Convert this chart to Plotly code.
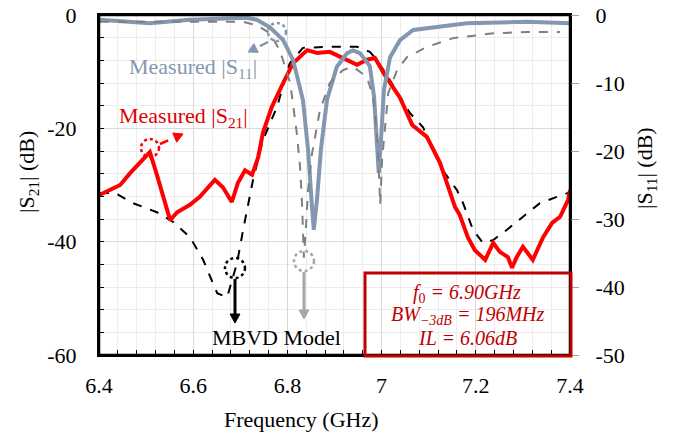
import plotly.graph_objects as go

# ---------------- data ----------------
freq_s21_meas = [6.400, 6.445, 6.466, 6.487, 6.508, 6.523, 6.536, 6.551, 6.566, 6.593, 6.614,
                 6.646, 6.663, 6.682, 6.695, 6.710, 6.725, 6.738, 6.748, 6.767, 6.791, 6.812,
                 6.842, 6.863, 6.890, 6.927, 6.948, 6.969, 6.986, 7.007, 7.018, 7.039, 7.065,
                 7.096, 7.124, 7.156, 7.166, 7.183, 7.198, 7.220, 7.237, 7.251, 7.268, 7.277,
                 7.287, 7.300, 7.321, 7.343, 7.362, 7.379, 7.396, 7.400]
s21_meas = [-31.8, -30.0, -27.9, -26.1, -24.2, -28.2, -31.8, -36.2, -34.8, -33.5, -32.1,
            -29.1, -30.4, -33.0, -29.6, -27.4, -28.2, -25.1, -20.8, -16.2, -12.0, -8.5,
            -6.2, -6.7, -6.5, -7.9, -8.8, -7.9, -7.6, -10.6, -12.0, -14.6, -19.4,
            -21.5, -26.1, -33.9, -35.3, -39.2, -41.5, -43.2, -40.2, -41.8, -42.7, -44.6,
            -42.7, -40.9, -43.2, -39.2, -36.7, -35.6, -32.6, -30.9]

freq_s21_model = [6.402, 6.434, 6.472, 6.523, 6.557, 6.593, 6.621, 6.651, 6.672, 6.693, 6.706,
                  6.727, 6.748, 6.778, 6.805, 6.833, 6.890, 6.948, 6.975, 6.990, 7.011, 7.033,
                  7.060, 7.088, 7.109, 7.130, 7.160, 7.173, 7.194, 7.215, 7.237, 7.266, 7.300,
                  7.336, 7.372, 7.396]
s21_model = [-31.4, -31.4, -33.2, -34.8, -36.5, -39.2, -43.2, -49.1, -49.8, -43.8, -37.9,
             -29.1, -22.1, -16.2, -8.5, -5.8, -5.6, -5.6, -6.5, -7.9, -10.6, -13.6,
             -17.3, -19.8, -23.8, -27.4, -30.9, -33.2, -37.9, -40.2, -39.7, -37.9, -35.6,
             -33.2, -32.1, -31.4]

freq_s11_meas = [6.402, 6.508, 6.593, 6.714, 6.735, 6.763, 6.791, 6.812, 6.833, 6.844, 6.852,
                 6.856, 6.863, 6.871, 6.884, 6.905, 6.927, 6.939, 6.954, 6.975, 6.984, 6.990,
                 6.994, 6.999, 7.005, 7.018, 7.039, 7.067, 7.109, 7.181, 7.309, 7.400]
s11_meas = [-0.7, -1.2, -0.7, -0.4, -0.7, -1.8, -3.7, -6.6, -12.5, -19.9, -28.0,
            -31.6, -27.0, -19.9, -12.5, -7.6, -5.6, -5.2, -5.6, -7.5, -12.0, -18.0,
            -23.2, -18.0, -11.0, -6.2, -3.7, -2.2, -1.8, -1.2, -1.0, -1.2]

freq_s11_model = [6.402, 6.706, 6.735, 6.763, 6.784, 6.806, 6.820, 6.827, 6.831, 6.835, 6.839,
                  6.844, 6.852, 6.869, 6.890, 6.918, 6.939, 6.969, 6.982, 6.990, 6.994, 6.997,
                  7.001, 7.007, 7.014, 7.033, 7.054, 7.096, 7.152, 7.237, 7.309, 7.379]
s11_model = [-1.0, -1.0, -1.5, -2.7, -5.2, -10.0, -17.4, -22.4, -27.6, -35.7, -31.6,
             -25.7, -20.5, -14.0, -10.0, -8.1, -7.6, -9.1, -12.1, -17.4, -22.4, -27.9,
             -21.3, -16.5, -11.5, -8.1, -6.2, -4.7, -3.4, -2.7, -2.5, -2.5]

x_ticks = [6.4, 6.6, 6.8, 7.0, 7.2, 7.4]
x_ticktext = ["6.4", "6.6", "6.8", "7", "7.2", "7.4"]
y_ticks = [-60, -40, -20, 0]
y_ticktext = ["-60", "-40", "-20", "0"]
y2_ticks = [-50, -40, -30, -20, -10, 0]
y2_ticktext = ["-50", "-40", "-30", "-20", "-10", "0"]

# ---------------- styling ----------------
FONT = "Liberation Serif"
S11_COL = "#8497B0"
RED = "#FF0000"
BOX_RED = "#C00000"
FS = 22

# the page body has an 8px margin: lay the figure out in window pixels minus 8
OFF = 8
X0, X1, Y0, Y1 = 99, 570, 15, 355          # plot area in window pixels
W, H = 680 - OFF, 436 - OFF
L, T = X0 - OFF, Y0 - OFF
R, B = W - (X1 - OFF), H - (Y1 - OFF)
PW, PH = X1 - X0, Y1 - Y0


def pxp(px):  # window pixel -> paper x
    return (px - X0) / PW


def pyp(py):  # window pixel -> paper y
    return 1 - (py - Y0) / PH


fig = go.Figure()

fig.add_trace(go.Scatter(x=freq_s11_meas, y=s11_meas, yaxis="y2", mode="lines",
                         line=dict(color=S11_COL, width=4), name="Measured |S11|"))
fig.add_trace(go.Scatter(x=freq_s11_model, y=s11_model, yaxis="y2", mode="lines",
                         line=dict(color="#7F7F7F", width=2, dash="dash"), name="Model |S11|"))
fig.add_trace(go.Scatter(x=freq_s21_model, y=s21_model, mode="lines",
                         line=dict(color="black", width=2, dash="dash"), name="Model |S21|"))
fig.add_trace(go.Scatter(x=freq_s21_meas, y=s21_meas, mode="lines",
                         line=dict(color=RED, width=4), name="Measured |S21|"))

shapes = []
annotations = []


def circle(cx, cy, r, color):
    shapes.append(dict(type="circle", xref="paper", yref="paper",
                       x0=pxp(cx - r), x1=pxp(cx + r), y0=pyp(cy + r), y1=pyp(cy - r),
                       line=dict(color=color, width=2.5, dash="dot"), layer="above"))


def arrow(x0, y0, x1, y1, color, dashed=False, width=2.5, head=9):
    dx, dy = x1 - x0, y1 - y0
    n = (dx ** 2 + dy ** 2) ** 0.5
    ux, uy = dx / n, dy / n
    bx, by = x1 - ux * head, y1 - uy * head
    shapes.append(dict(type="line", xref="paper", yref="paper",
                       x0=pxp(x0), y0=pyp(y0), x1=pxp(bx), y1=pyp(by),
                       line=dict(color=color, width=width, dash="dash" if dashed else "solid"),
                       layer="above"))
    wx, wy = -uy * head * 0.55, ux * head * 0.55
    path = "M {} {} L {} {} L {} {} Z".format(
        pxp(x1), pyp(y1), pxp(bx + wx), pyp(by + wy), pxp(bx - wx), pyp(by - wy))
    shapes.append(dict(type="path", xref="paper", yref="paper", path=path,
                       fillcolor=color, line=dict(color=color, width=1), layer="above"))


def label(px, py, text, color, size=FS, angle=0):
    annotations.append(dict(x=pxp(px), y=pyp(py), xref="paper", yref="paper", text=text,
                            showarrow=False, textangle=angle, xanchor="center",
                            yanchor="middle", font=dict(family=FONT, size=size, color=color)))


# markers for the labels
circle(277, 32, 9, S11_COL)
arrow(268, 42, 248, 52, S11_COL, dashed=True)
circle(150, 148, 9, RED)
arrow(160, 144, 183, 134, RED, dashed=True)
circle(235, 268, 10, "black")
arrow(235, 279, 235, 323, "black", width=3)
circle(304, 261, 10, "#A6A6A6")
arrow(304, 272, 304, 319, "#A6A6A6", width=3)

# plot frame
shapes.append(dict(type="rect", xref="paper", yref="paper", x0=0, x1=1, y0=0, y1=1,
                   fillcolor="rgba(0,0,0,0)", line=dict(color="black", width=2.5),
                   layer="above"))

# text box
shapes.append(dict(type="rect", xref="paper", yref="paper", x0=pxp(365), x1=pxp(571),
                   y0=pyp(356), y1=pyp(273), fillcolor="white",
                   line=dict(width=0), layer="between"))
shapes.append(dict(type="rect", xref="paper", yref="paper", x0=pxp(365), x1=pxp(571),
                   y0=pyp(356), y1=pyp(273), fillcolor="rgba(0,0,0,0)",
                   line=dict(color=BOX_RED, width=3), layer="above"))

box_lines = ["<i>f</i><sub>0</sub><i> = 6.90GHz</i>",
             "<i>BW</i><sub><i>−3dB</i></sub><i> = 196MHz</i>",
             "<i>IL = 6.06dB</i>"]
for txt, yy in zip(box_lines, [293, 315, 338]):
    label(467, yy, txt, BOX_RED, size=20)

label(193, 68, "Measured |S<sub>11</sub>|", S11_COL)
label(183, 117, "Measured |S<sub>21</sub>|", "#E00000")
label(276, 337, "MBVD Model", "black")

# axis titles
label(28, 172, "|S<sub>21</sub>| (dB)", "black", angle=-90)
label(646, 168, "|S<sub>11</sub>| (dB)", "black", angle=-90)
label(301, 419, "Frequency (GHz)", "black")

fig.update_layout(
    width=W, height=H,
    margin=dict(l=L, r=R, t=T, b=B, pad=0, autoexpand=False),
    paper_bgcolor="white", plot_bgcolor="white",
    showlegend=False,
    font=dict(family=FONT, size=FS, color="black"),
    shapes=shapes, annotations=annotations,
    xaxis=dict(range=[6.4, 7.4], tickmode="array", tickvals=x_ticks, ticktext=x_ticktext,
               showline=True, linecolor="black", linewidth=2, mirror=True,
               ticks="inside", ticklen=5, tickcolor="black", tickwidth=1,
               showgrid=True, gridcolor="#D9D9D9", gridwidth=1, automargin=False,
               ticklabelstandoff=10, zeroline=False, ticklabeloverflow="allow",
               minor=dict(tick0=6.4, dtick=0.04, ticks="inside", ticklen=5,
                          tickcolor="black", showgrid=True, gridcolor="#ECECEC")),
    yaxis=dict(range=[-60, 0], tickmode="array", tickvals=y_ticks, ticktext=y_ticktext,
               showline=True, linecolor="black", linewidth=2, mirror=True,
               ticks="inside", ticklen=5, tickcolor="black", tickwidth=1,
               showgrid=True, gridcolor="#D9D9D9", gridwidth=1, automargin=False,
               ticklabelstandoff=16, zeroline=False, ticklabeloverflow="allow",
               minor=dict(tick0=0, dtick=4, ticks="inside", ticklen=5,
                          tickcolor="black", showgrid=True, gridcolor="#ECECEC")),
    yaxis2=dict(range=[-50, 0], overlaying="y", side="right", tickmode="array",
                tickvals=y2_ticks, ticktext=y2_ticktext, showline=False,
                ticks="outside", ticklen=8, tickcolor="#A6A6A6", tickwidth=1,
                showgrid=False, zeroline=False, ticklabelstandoff=12, automargin=False,
                ticklabeloverflow="allow"),
)

fig.write_html("out.html")
